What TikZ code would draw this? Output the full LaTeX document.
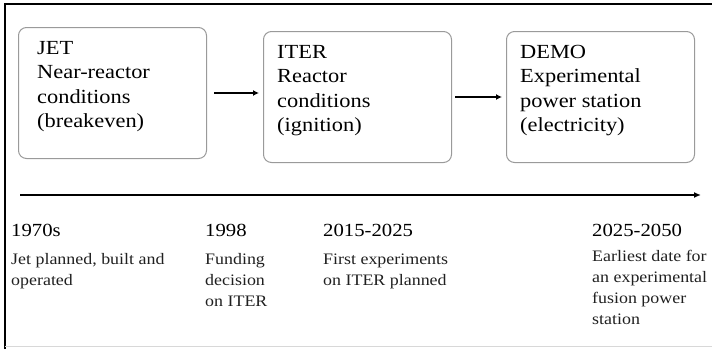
\documentclass[tikz,border=0pt]{standalone}
\usepackage{fontspec}
\setmainfont{Liberation Serif}[FakeStretch=1.12]
\usepackage{tikz}
\usetikzlibrary{positioning,arrows.meta}
\definecolor{cBox}{HTML}{9A9A9A}
\definecolor{cDesc}{HTML}{202020}
\definecolor{cEdge}{HTML}{D8D8D8}
\tikzset{
  stage/.style={draw=cBox,rounded corners=8pt,line width=1pt,minimum width=188pt,minimum height=131pt,anchor=north west,inner sep=0pt},
  stxt/.style={anchor=north west,align=left,inner sep=0pt,font=\fontsize{20}{24.5}\selectfont},
  year/.style={anchor=west,inner sep=0pt,font=\fontsize{18.5}{22}\selectfont},
  desc/.style={anchor=north west,align=left,inner sep=0pt,text=cDesc,font=\fontsize{16}{21}\selectfont},
  arr/.style={-{Latex[length=6pt,width=6pt]},line width=1.5pt},
  tarr/.style={-{Latex[length=7pt,width=6pt]},line width=2.5pt}}
\begin{document}
\begin{tikzpicture}[x=1pt,y=-1pt]
\useasboundingbox (0,0) rectangle (712,349);
% frame
\draw[line width=1.5pt] (5,349) -- (5,4) -- (712,4);
\draw[cEdge,line width=1pt] (5,346.5) -- (712,346.5);
% stages
\node[stage] (jet)  at (18,27)  {};
\node[stage] (iter) at (263,31) {};
\node[stage] (demo) at (506,31) {};
\node[stxt] (jettxt)  at ([shift={(19,14)}]jet.north west)  {JET\\Near-reactor\\conditions\\(breakeven)};
\node[stxt] (itertxt) at ([shift={(14,14)}]iter.north west) {ITER\\Reactor\\conditions\\(ignition)};
\node[stxt] (demotxt) at ([shift={(14,14)}]demo.north west) {DEMO\\Experimental\\power station\\(electricity)};
\draw[arr, shorten <=7pt, shorten >=4pt] (jet.east) -- (jet.east -| iter.west);
\draw[arr, shorten <=3pt, shorten >=4pt] (iter.east) -- (iter.east -| demo.west);
% timeline
\coordinate (tstart) at (20,195);
\coordinate (tend)   at (701,195);
\draw[tarr] (tstart) -- (tend);
\node[year] (y1) at (11,230)  {1970s};
\node[year] (y2) at (205,230) {1998};
\node[year] (y3) at (323,230) {2015-2025};
\node[year] (y4) at (592,230) {2025-2050};
\node[desc, below=17pt of y1.south west, anchor=north west] (d1) {Jet planned, built and\\operated};
\node[desc, below=17pt of y2.south west, anchor=north west] (d2) {Funding\\decision\\on ITER};
\node[desc, below=17pt of y3.south west, anchor=north west] (d3) {First experiments\\on ITER planned};
\node[desc, below=14pt of y4.south west, anchor=north west] (d4) {Earliest date for\\an experimental\\fusion power\\station};
\end{tikzpicture}
\end{document}
